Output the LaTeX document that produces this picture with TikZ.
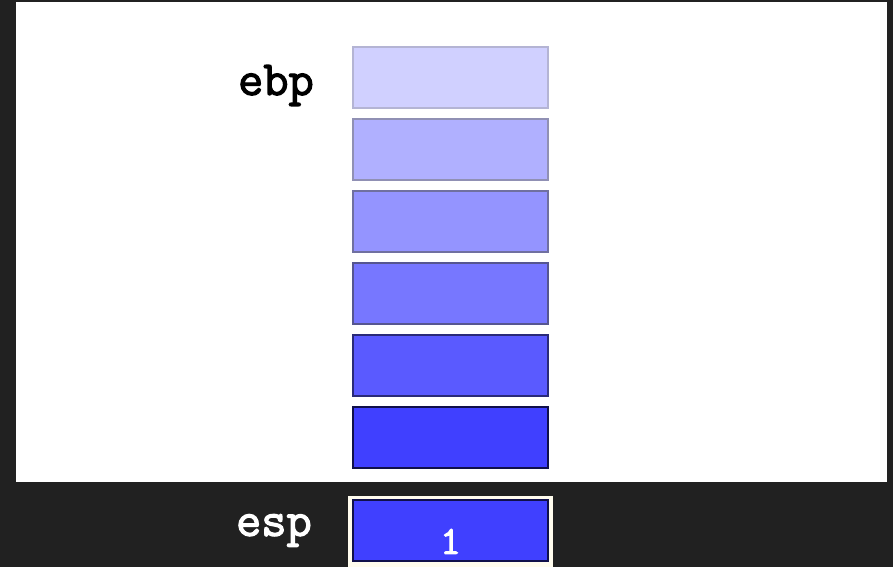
\documentclass[tikz,border=0pt]{standalone}
\usepackage{fontspec}
\newfontfamily\regfont{Latin Modern Mono}[FakeBold=2.5]
\usetikzlibrary{positioning}

% stack colours, top (light) to bottom (dark)
\definecolor{bgdark}{HTML}{212121}
\definecolor{cream}{HTML}{FFFCEE}
\definecolor{slotA}{HTML}{D0D0FF}
\definecolor{slotB}{HTML}{B0B0FF}
\definecolor{slotC}{HTML}{9494FF}
\definecolor{slotD}{HTML}{7777FF}
\definecolor{slotE}{HTML}{5A5AFF}
\definecolor{slotF}{HTML}{4040FF}
\definecolor{rimA}{HTML}{B4B4D4}
\definecolor{rimB}{HTML}{9090B4}
\definecolor{rimC}{HTML}{7070A0}
\definecolor{rimD}{HTML}{565690}
\definecolor{rimE}{HTML}{2A2A78}
\definecolor{rimF}{HTML}{10104A}

\begin{document}
\begin{tikzpicture}[x=1pt, y=-1pt,
  slot/.style={draw, line width=2pt, minimum width=195pt, minimum height=61pt, inner sep=0pt, anchor=north west},
  reg/.style={inner sep=0pt, font=\regfont\bfseries\fontsize{49}{49}\selectfont}]
% Background and white panel
\fill[bgdark] (0,0) rectangle (893,567);
\fill[white] (16,2) rectangle (887,482);

% Stack slots
\foreach \n/\c in {1/A, 2/B, 3/C, 4/D, 5/E, 6/F}
  \node[slot, fill=slot\c, draw=rim\c] (slot\n) at (352, {46+72*(\n-1)}) {};

% Pushed value below the panel
\fill[cream] (348,496) rectangle (553,567);
\node[slot, fill=slotF, draw=rimF] (top) at (352,499) {};
\node[inner sep=0pt, text=white, font=\regfont\bfseries\fontsize{40}{40}\selectfont] (val) at ([yshift=-11pt]top.center) {1};

% Register labels
\node[reg, left=38pt of slot1, yshift=-8pt] (ebp) {ebp};
\node[reg, text=white, left=40pt of top] (esp) {esp};
\end{tikzpicture}
\end{document}
